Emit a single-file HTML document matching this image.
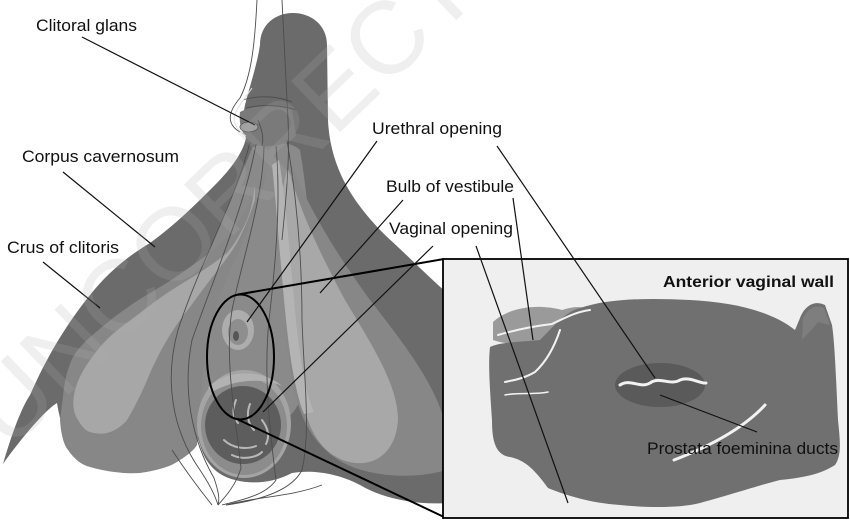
<!DOCTYPE html>
<html><head><meta charset="utf-8"><style>
html,body{margin:0;padding:0;background:#fff;}
svg{display:block;}
text{font-family:"Liberation Sans",Arial,sans-serif;}
</style></head><body>
<svg width="850" height="524" viewBox="0 0 850 524" xmlns="http://www.w3.org/2000/svg">
<rect width="850" height="524" fill="#fff"/>

<!-- dark body -->
<path fill="#6b6b6b" d="M260,45 C260,24 276,13 293,13 C311,13 327,25 327,45 L328,120 C330,165 350,200 385,235 C410,258 432,280 446,292 L446,503 C420,505 385,500 360,485 C335,472 310,470 292,473 C275,482 255,485 235,480 C215,475 205,462 200,445 C196,432 190,425 183,430 C165,455 140,470 110,470 C85,468 70,455 63,430 C60,418 58,410 57,403 C45,410 20,440 3,464 C10,440 20,410 30,395 C50,350 70,320 90,295 C110,270 130,255 150,243 C175,225 195,205 215,185 C232,168 243,152 246,138 C243,128 242,120 245,105 C250,85 257,65 260,45 Z"/>

<!-- center mid -->
<path fill="#8a8a8a" d="M252,148 C265,140 290,140 300,150 C312,220 315,300 305,380 C300,410 290,425 260,425 L195,420 C185,380 188,330 200,280 C215,230 240,180 252,148 Z"/>

<!-- left lobe mid band -->
<path fill="#878787" d="M268,162 C262,180 255,195 247,207 C240,220 232,230 227,237 C215,250 200,260 190,267 C175,278 162,286 150,293 C135,302 120,312 107,323 C92,335 80,345 73,357 C66,372 64,385 63,397 C62,405 61,412 60,420 C61,435 64,445 68,450 C75,460 82,465 90,467 C108,472 125,474 140,473 C160,470 172,466 180,460 C188,455 194,450 197,445 C199,430 199,415 200,400 C203,375 206,350 210,330 C216,305 225,280 235,260 C243,240 250,225 255,210 C261,195 266,180 268,162 Z"/>
<!-- left light bulb -->
<path fill="#a7a7a7" d="M255,185 C253,200 251,210 247,220 C240,235 234,245 227,253 C212,265 198,274 183,283 C168,292 154,302 140,313 C125,324 110,335 100,347 C88,362 79,375 75,390 C72,402 73,413 78,420 C82,427 86,431 90,432 C96,434 102,434 107,433 C115,431 122,426 127,420 C136,405 144,388 150,373 C156,360 161,350 167,340 C174,328 182,317 190,307 C200,293 210,280 220,267 C228,257 235,247 240,237 C246,225 251,212 255,200 Z"/>

<!-- right lobe mid band -->
<path fill="#878787" d="M292,165 C305,200 330,245 370,300 C405,345 440,390 446,430 L446,470 C420,478 385,478 355,468 C320,455 300,425 292,380 C282,320 280,240 292,165 Z"/>
<!-- right light bulb -->
<path fill="#a8a8a8" d="M288,168 C300,210 318,250 345,300 C372,345 398,385 398,420 C396,450 378,465 355,463 C330,460 312,440 305,410 C292,360 282,300 280,240 C279,210 282,185 288,168 Z"/>
<!-- lightest stripe -->
<path fill="#b4b4b4" d="M279,160 C286,200 290,260 296,320 C300,360 306,395 314,412 L304,414 C296,395 290,360 286,320 C280,260 276,200 272,165 Z"/>

<!-- vaginal opening ring -->
<ellipse cx="244" cy="424" rx="47" ry="54" fill="#a4a4a4"/>
<ellipse cx="244" cy="426" rx="43" ry="49" fill="#8c8c8c"/>
<path fill="#b2b2b2" d="M208,388 C222,370 262,368 282,386 C270,380 240,376 212,392 Z"/>
<ellipse cx="243" cy="425" rx="38" ry="39" fill="#5d5d5d"/>
<g fill="none" stroke="#b8b8b8" stroke-width="2" stroke-linecap="round">
<path d="M236,400 C232,410 233,418 238,423"/>
<path d="M250,404 C246,414 248,424 254,430"/>
<path d="M224,440 C232,448 246,450 256,446"/>
<path d="M232,455 C242,460 256,458 262,452"/>
<path d="M262,420 C268,428 270,436 266,444"/>
</g>

<!-- urethra -->
<ellipse cx="238" cy="330" rx="16" ry="20" fill="#adadad"/>
<ellipse cx="238" cy="332" rx="10" ry="13" fill="#8e8e8e"/>
<ellipse cx="236" cy="336" rx="3" ry="5" fill="#555"/>

<!-- glans -->
<path fill="#7a7a7a" d="M240,112 C255,104 280,104 292,110 L296,135 C290,145 270,148 255,145 C245,140 238,128 240,112 Z"/>
<ellipse cx="249" cy="127" rx="9" ry="5" fill="#a0a0a0" stroke="#555" stroke-width="0.8"/>

<!-- nerves / thin lines -->
<g fill="none" stroke="#4d4d4d" stroke-width="0.9">
<path d="M257,0 C255,40 252,75 240,98 C228,112 226,124 240,132"/>
<path d="M282,0 C284,40 286,80 288,120 C290,160 286,200 282,240"/>
<path d="M243,100 C258,95 278,96 292,102"/>
<path d="M246,108 C262,104 280,105 296,110"/>
<path d="M258,120 C262,130 264,138 262,146"/>
<path d="M250,142 C236,200 200,262 178,330 C164,380 172,430 200,470 C210,485 215,495 218,505"/>
<path d="M256,144 C246,202 216,272 192,340 C182,390 192,440 214,478 C218,490 220,498 218,505"/>
<path d="M264,146 C263,200 242,260 232,310 C224,360 236,420 241,468 C236,485 226,496 218,505"/>
<path d="M276,146 C281,200 276,260 269,320 C263,380 271,440 276,480 C266,495 242,500 222,505"/>
<path d="M287,140 C297,200 302,260 302,320 C304,380 311,430 302,470 C292,490 262,500 226,505"/>
<path d="M226,505 C260,496 290,497 322,485"/>
<path d="M212,505 C200,490 185,470 172,450"/>
</g>
<g fill="none" stroke="#e0e0e0" stroke-width="1">
<path d="M252,88 C244,100 236,108 234,118 C234,126 240,132 246,136"/>
</g>

<!-- magnifier ellipse and zoom lines -->
<g fill="none" stroke="#000" stroke-width="2">
<ellipse cx="240.5" cy="357" rx="33.5" ry="62.5"/>
<line x1="238" y1="294.5" x2="444" y2="259"/>
<line x1="238" y1="419.5" x2="444" y2="517"/>
</g>

<!-- histology box -->
<rect x="443" y="259" width="405" height="259" fill="#efefef" stroke="#000" stroke-width="1.8"/>
<path fill="#9a9a9a" d="M493,322 C510,306 540,304 562,310 C580,304 592,308 598,316 L565,340 C540,346 510,346 493,340 Z"/>
<path fill="#707070" d="M490,347 C500,342 520,342 540,340 C555,325 565,312 580,308 C610,298 650,298 690,300 C730,302 770,310 795,330 L800,318 C805,305 815,300 825,305 L832,325 C835,345 836,380 838,420 C840,440 842,455 835,465 C820,475 800,478 780,480 C760,485 740,492 700,503 C680,508 650,508 620,505 C590,503 565,495 548,488 C535,470 525,460 510,457 C495,455 492,440 492,420 C490,390 488,365 490,347 Z"/>
<path fill="#7e7e7e" d="M803,318 C808,308 816,304 824,308 L830,325 L818,322 C812,330 806,335 802,340 Z"/>
<ellipse cx="660" cy="385" rx="45" ry="22" fill="#5a5a5a"/>
<g fill="none" stroke="#f2f2f2" stroke-linecap="round">
<path stroke-width="3" d="M620,385 C630,378 640,389 650,383 C660,376 670,386 680,380 C690,376 700,384 706,383"/>
<path stroke-width="3" d="M674,460 C700,450 740,432 765,405"/>
<path stroke-width="2" d="M498,335 C515,330 535,326 552,324 C565,318 575,312 590,310"/>
<path stroke-width="2" d="M560,330 C555,345 548,360 535,372 C525,378 515,380 505,382"/>
<path stroke-width="1.5" d="M505,395 C520,392 535,395 548,392"/>
</g>

<!-- leader lines -->
<g stroke="#111" stroke-width="1.2" fill="none">
<line x1="82" y1="37" x2="255" y2="125"/>
<line x1="63" y1="172" x2="155" y2="247"/>
<line x1="43" y1="262" x2="100" y2="308"/>
<line x1="377" y1="141" x2="247" y2="322"/>
<line x1="497" y1="146" x2="655" y2="378"/>
<line x1="403" y1="200" x2="320" y2="293"/>
<line x1="513" y1="198" x2="533" y2="340"/>
<line x1="433" y1="246" x2="263" y2="412"/>
<line x1="476" y1="246" x2="568" y2="503"/>
<line x1="660" y1="395" x2="757" y2="432"/>
</g>

<!-- labels -->
<g fill="#111" font-size="17">
<text x="36" y="31" textLength="101" lengthAdjust="spacingAndGlyphs">Clitoral glans</text>
<text x="22" y="162" textLength="157" lengthAdjust="spacingAndGlyphs">Corpus cavernosum</text>
<text x="7" y="253" textLength="112" lengthAdjust="spacingAndGlyphs">Crus of clitoris</text>
<text x="372" y="134" textLength="130" lengthAdjust="spacingAndGlyphs">Urethral opening</text>
<text x="386" y="192" textLength="128" lengthAdjust="spacingAndGlyphs">Bulb of vestibule</text>
<text x="389" y="234" textLength="124" lengthAdjust="spacingAndGlyphs">Vaginal opening</text>
<text x="663" y="287" font-size="16" font-weight="bold" textLength="171" lengthAdjust="spacingAndGlyphs">Anterior vaginal wall</text>
<text x="647" y="454" textLength="191" lengthAdjust="spacingAndGlyphs">Prostata foeminina ducts</text>
</g>

<!-- watermark -->
<text x="0" y="0" transform="translate(9,452) rotate(-44)" font-size="103" fill="#b0b0b0" fill-opacity="0.2">UNCORRECTED</text>
</svg>
</body></html>
